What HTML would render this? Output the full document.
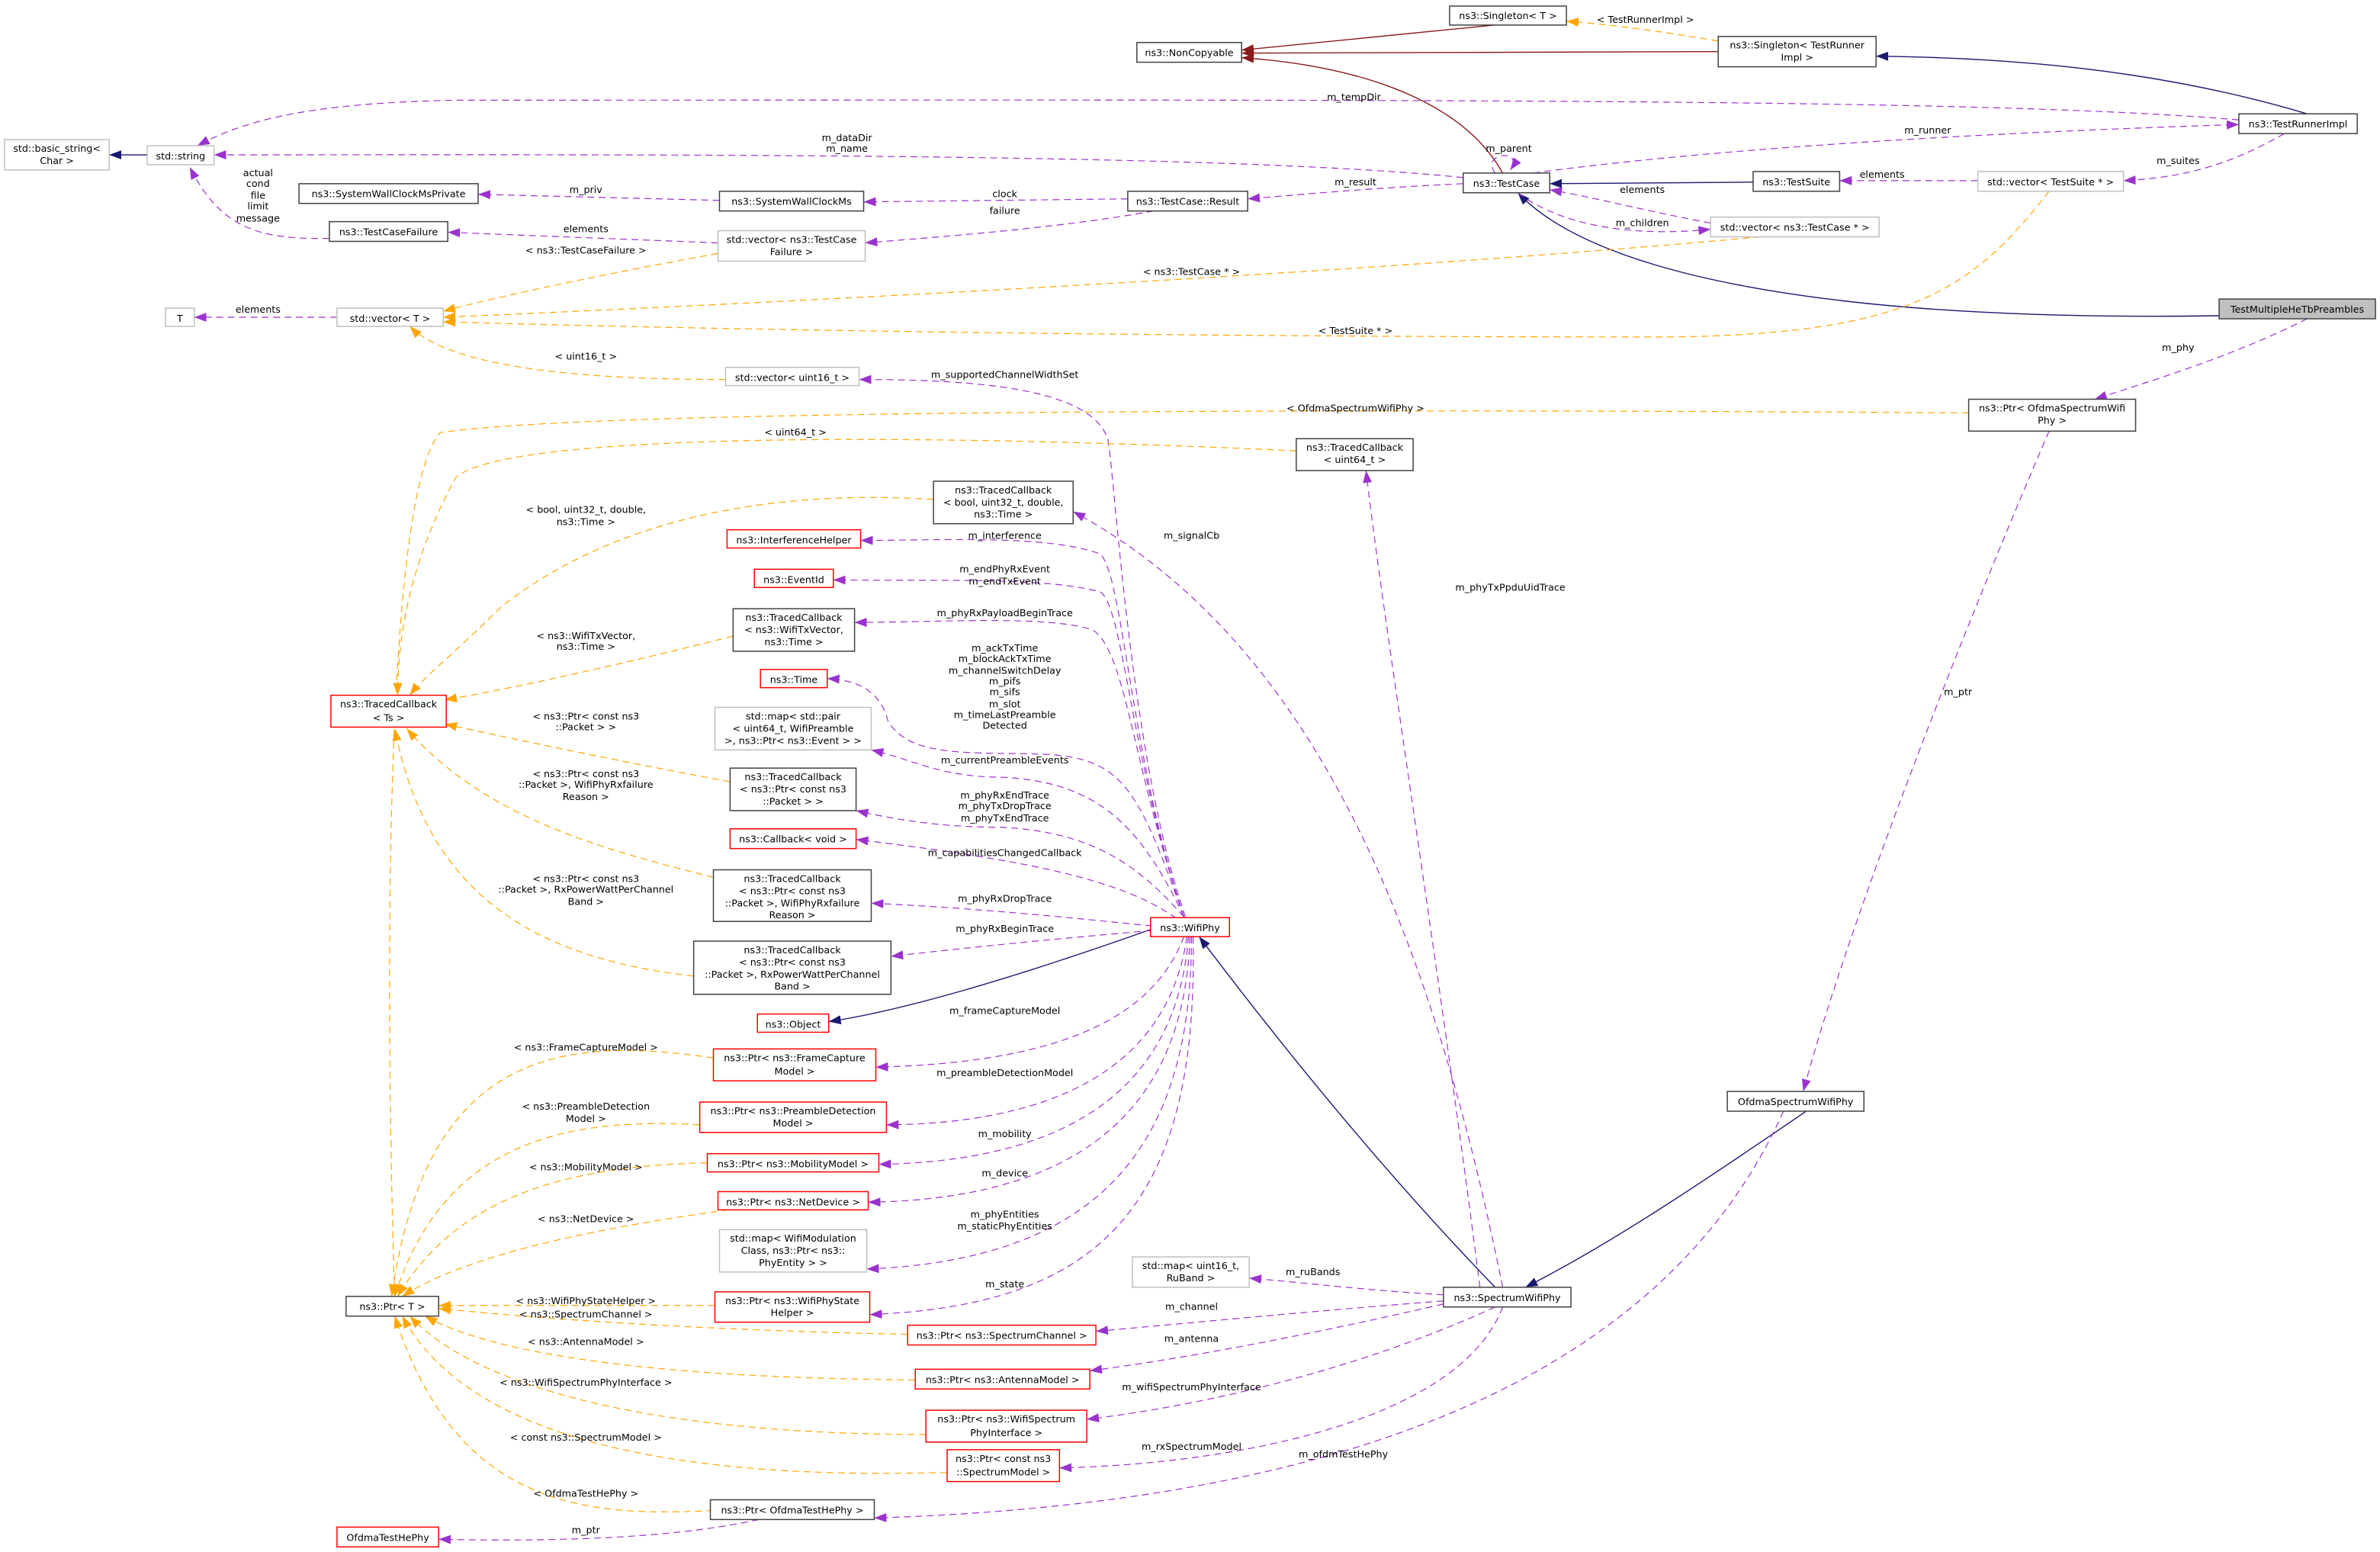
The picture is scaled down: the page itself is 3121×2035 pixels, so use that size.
<!DOCTYPE html>
<html><head><meta charset="utf-8"><style>
html,body{margin:0;padding:0;background:#fff}
svg{display:block}
text{font-family:"DejaVu Sans","Liberation Sans",sans-serif;font-size:6.4px;fill:#000;text-anchor:middle}
.b{fill:#fff;stroke:#404040;stroke-width:0.75}
.g{fill:#fff;stroke:#bfbfbf;stroke-width:0.75}
.r{fill:#fff;stroke:#ff0000;stroke-width:0.75}
.p{fill:none;stroke:#9a32cd;stroke-width:0.6;stroke-dasharray:4.5,3;marker-end:url(#mp)}
.o{fill:none;stroke:#ffa500;stroke-width:0.6;stroke-dasharray:4.5,3;marker-end:url(#mo)}
.n{fill:none;stroke:#191970;stroke-width:0.7;marker-end:url(#mn)}
.d{fill:none;stroke:#8b1a1a;stroke-width:0.7;marker-end:url(#md)}
</style></head><body>
<svg width="3121" height="2035" viewBox="0 0 1568 1022.4" preserveAspectRatio="none" xmlns="http://www.w3.org/2000/svg">
<defs>
<marker id="mp" markerUnits="userSpaceOnUse" markerWidth="9" markerHeight="7" refX="8" refY="3" orient="auto"><path d="M0,0L8,3L0,6z" fill="#9a32cd"/></marker>
<marker id="mo" markerUnits="userSpaceOnUse" markerWidth="9" markerHeight="7" refX="8" refY="3" orient="auto"><path d="M0,0L8,3L0,6z" fill="#ffa500"/></marker>
<marker id="mn" markerUnits="userSpaceOnUse" markerWidth="9" markerHeight="7" refX="8" refY="3" orient="auto"><path d="M0,0L8,3L0,6z" fill="#191970"/></marker>
<marker id="md" markerUnits="userSpaceOnUse" markerWidth="9" markerHeight="7" refX="8" refY="3" orient="auto"><path d="M0,0L8,3L0,6z" fill="#8b1a1a"/></marker>
</defs>

<!-- edges -->
<path class="d" d="M990,16 C930,22 870,28 818,33"/>
<path class="d" d="M1132,34 L818,35"/>
<path class="d" d="M990,114 C960,60 880,42 818,38"/>
<path class="o" d="M1132,27 C1090,20 1060,16 1032,14"/>
<text x="1084" y="15">&lt; TestRunnerImpl &gt;</text>
<path class="n" d="M1520,75 C1420,45 1320,38 1236,37"/>
<path class="n" d="M97,102 L72,102"/>
<path class="n" d="M1155,120 L1021,121"/>
<path class="n" d="M1462,208 C1200,212 1050,180 1000,127"/>
<path class="n" d="M759,612 C680,640 600,665 546,673"/>
<path class="n" d="M985,848 C900,760 830,670 790,617"/>
<path class="n" d="M1190,732 C1120,780 1060,820 1005,848"/>

<path class="p" d="M1475,79 C1300,64 900,66 300,66 C200,68 160,80 130,96"/>
<text x="892" y="66">m_tempDir</text>
<path class="p" d="M1010,114 C1150,95 1350,86 1475,82"/>
<text x="1270" y="88">m_runner</text>
<path class="p" d="M964,117 C800,100 400,102 141,102"/>
<text x="558" y="93">m_dataDir</text><text x="558" y="100">m_name</text>
<path class="p" d="M964,121 C900,124 860,128 822,131"/>
<text x="893" y="122">m_result</text>
<path class="p" d="M985,114 C975,100 1005,98 995,112"/>
<text x="994" y="100">m_parent</text>
<path class="p" d="M1505,88 C1470,108 1440,117 1399,119"/>
<text x="1435" y="108">m_suites</text>
<path class="p" d="M1303,119 L1212,119"/>
<text x="1240" y="117">elements</text>
<path class="p" d="M1127,147 C1080,138 1050,130 1021,125"/>
<text x="1082" y="127">elements</text>
<path class="p" d="M1000,127 C1030,150 1080,156 1127,151"/>
<text x="1082" y="149">m_children</text>
<path class="p" d="M743,131 L569,133"/>
<text x="662" y="130">clock</text>
<path class="p" d="M760,139 C700,150 620,156 570,160"/>
<text x="662" y="141">failure</text>
<path class="p" d="M474,132 L315,128"/>
<text x="386" y="127">m_priv</text>
<path class="p" d="M473,160 L295,153"/>
<text x="386" y="153">elements</text>
<path class="p" d="M217,157 C170,158 145,150 125,110"/>
<text x="170" y="116">actual</text><text x="170" y="123">cond</text><text x="170" y="131">file</text><text x="170" y="138">limit</text><text x="170" y="146">message</text>
<path class="p" d="M222,209 L128,209"/>
<text x="170" y="206">elements</text>
<path class="p" d="M1520,210 C1470,235 1420,250 1380,263"/>
<text x="1435" y="231">m_phy</text>
<path class="p" d="M1350,284 C1300,400 1220,600 1188,719"/>
<text x="1290" y="458">m_ptr</text>
<path class="p" d="M975,848 C950,650 910,400 900,310"/>
<text x="995" y="389">m_phyTxPpduUidTrace</text>
<path class="p" d="M990,848 C940,600 860,420 707,337"/>
<text x="785" y="355">m_signalCb</text>

<path class="p" d="M781,604 C745,500 735,320 730,290 C720,255 640,250 566,250"/>
<text x="662" y="249">m_supportedChannelWidthSet</text>
<path class="p" d="M780,604 C745,500 740,380 725,365 C690,352 620,356 567,356"/>
<text x="662" y="355">m_interference</text>
<path class="p" d="M780,604 C745,500 740,400 725,390 C690,380 620,383 549,382"/>
<text x="662" y="377">m_endPhyRxEvent</text><text x="662" y="385">m_endTxEvent</text>
<path class="p" d="M780,604 C745,500 742,430 720,415 C690,405 620,410 563,410"/>
<text x="662" y="406">m_phyRxPayloadBeginTrace</text>
<path class="p" d="M780,604 C750,520 740,500 690,497 C640,495 600,500 585,475 C580,455 565,448 545,447"/>
<text x="662" y="429">m_ackTxTime</text><text x="662" y="436">m_blockAckTxTime</text><text x="662" y="444">m_channelSwitchDelay</text><text x="662" y="451">m_pifs</text><text x="662" y="458">m_sifs</text><text x="662" y="466">m_slot</text><text x="662" y="473">m_timeLastPreamble</text><text x="662" y="480">Detected</text>
<path class="p" d="M780,604 C750,540 720,515 660,512 C620,512 600,500 574,494"/>
<text x="662" y="503">m_currentPreambleEvents</text>
<path class="p" d="M780,604 C750,570 720,548 660,545 C620,545 590,540 564,534"/>
<text x="662" y="526">m_phyRxEndTrace</text><text x="662" y="533">m_phyTxDropTrace</text><text x="662" y="541">m_phyTxEndTrace</text>
<path class="p" d="M775,605 C740,580 680,567 564,553"/>
<text x="662" y="564">m_capabilitiesChangedCallback</text>
<path class="p" d="M759,610 C700,604 640,598 574,595"/>
<text x="662" y="594">m_phyRxDropTrace</text>
<path class="p" d="M759,613 C700,618 640,624 587,630"/>
<text x="662" y="614">m_phyRxBeginTrace</text>
<path class="p" d="M780,617 C760,670 700,700 577,703"/>
<text x="662" y="668">m_frameCaptureModel</text>
<path class="p" d="M782,617 C770,700 700,740 584,741"/>
<text x="662" y="709">m_preambleDetectionModel</text>
<path class="p" d="M783,617 C775,720 700,765 579,767"/>
<text x="662" y="749">m_mobility</text>
<path class="p" d="M784,617 C780,740 700,790 572,792"/>
<text x="662" y="775">m_device</text>
<path class="p" d="M785,617 C785,760 720,830 571,836"/>
<text x="662" y="802">m_phyEntities</text><text x="662" y="810">m_staticPhyEntities</text>
<path class="p" d="M786,617 C790,800 720,860 573,866"/>
<text x="662" y="848">m_state</text>
<path class="p" d="M951,853 C900,850 860,845 823,842"/>
<text x="865" y="840">m_ruBands</text>
<path class="p" d="M951,857 C860,864 780,872 722,877"/>
<text x="785" y="863">m_channel</text>
<path class="p" d="M951,859 C860,880 780,895 718,903"/>
<text x="785" y="884">m_antenna</text>
<path class="p" d="M985,861 C900,900 800,925 716,935"/>
<text x="785" y="916">m_wifiSpectrumPhyInterface</text>
<path class="p" d="M990,861 C960,940 800,965 698,967"/>
<text x="785" y="955">m_rxSpectrumModel</text>
<path class="p" d="M1175,732 C1100,900 900,990 576,1000"/>
<text x="885" y="960">m_ofdmTestHePhy</text>
<path class="p" d="M500,1001 C450,1012 380,1016 289,1014"/>
<text x="386" y="1010">m_ptr</text>

<path class="o" d="M473,167 C400,180 330,195 292,205"/>
<text x="386" y="167">&lt; ns3::TestCaseFailure &gt;</text>
<path class="o" d="M1160,156 C900,180 500,200 292,209"/>
<text x="785" y="181">&lt; ns3::TestCase * &gt;</text>
<path class="o" d="M1350,126 C1300,190 1260,220 1100,222 C800,222 500,218 292,212"/>
<text x="893" y="220">&lt; TestSuite * &gt;</text>
<path class="o" d="M478,250 C400,250 300,245 270,215"/>
<text x="386" y="237">&lt; uint16_t &gt;</text>
<path class="o" d="M1297,272 C1000,270 400,268 290,285 C250,330 255,700 260,854"/>
<text x="893" y="271">&lt; OfdmaSpectrumWifiPhy &gt;</text>
<path class="o" d="M854,297 C600,285 330,285 300,315 C270,370 262,420 262,458"/>
<text x="524" y="287">&lt; uint64_t &gt;</text>
<path class="o" d="M615,329 C470,320 380,360 330,400 C300,430 280,445 270,458"/>
<text x="386" y="338">&lt; bool, uint32_t, double,</text><text x="386" y="346">ns3::Time &gt;</text>
<path class="o" d="M483,419 C400,440 330,455 293,461"/>
<text x="386" y="421">&lt; ns3::WifiTxVector,</text><text x="386" y="428">ns3::Time &gt;</text>
<path class="o" d="M481,515 C400,500 330,485 293,477"/>
<text x="386" y="474">&lt; ns3::Ptr&lt; const ns3</text><text x="386" y="481">::Packet &gt; &gt;</text>
<path class="o" d="M470,578 C400,560 320,540 268,480"/>
<text x="386" y="512">&lt; ns3::Ptr&lt; const ns3</text><text x="386" y="519">::Packet &gt;, WifiPhyRxfailure</text><text x="386" y="527">Reason &gt;</text>
<path class="o" d="M457,643 C340,630 280,580 260,480"/>
<text x="386" y="581">&lt; ns3::Ptr&lt; const ns3</text><text x="386" y="588">::Packet &gt;, RxPowerWattPerChannel</text><text x="386" y="596">Band &gt;</text>
<path class="o" d="M470,697 C360,680 280,700 258,854"/>
<text x="386" y="692">&lt; ns3::FrameCaptureModel &gt;</text>
<path class="o" d="M461,741 C360,735 290,760 260,854"/>
<text x="386" y="731">&lt; ns3::PreambleDetection</text><text x="386" y="739">Model &gt;</text>
<path class="o" d="M466,766 C370,768 300,790 262,854"/>
<text x="386" y="771">&lt; ns3::MobilityModel &gt;</text>
<path class="o" d="M480,797 C400,808 310,825 265,854"/>
<text x="386" y="805">&lt; ns3::NetDevice &gt;</text>
<path class="o" d="M471,860 L289,860"/>
<text x="386" y="859">&lt; ns3::WifiPhyStateHelper &gt;</text>
<path class="o" d="M598,879 C450,876 350,868 289,862"/>
<text x="386" y="868">&lt; ns3::SpectrumChannel &gt;</text>
<path class="o" d="M603,909 C450,908 330,895 280,867"/>
<text x="386" y="886">&lt; ns3::AntennaModel &gt;</text>
<path class="o" d="M610,945 C450,945 320,920 270,867"/>
<text x="386" y="913">&lt; ns3::WifiSpectrumPhyInterface &gt;</text>
<path class="o" d="M624,970 C450,975 310,950 265,867"/>
<text x="386" y="949">&lt; const ns3::SpectrumModel &gt;</text>
<path class="o" d="M470,995 C380,1000 300,990 260,867"/>
<text x="386" y="986">&lt; OfdmaTestHePhy &gt;</text>

<!-- nodes -->
<rect class="b" x="955" y="4" width="77" height="12.5"/><text x="993.5" y="12.5">ns3::Singleton&lt; T &gt;</text>
<rect class="b" x="749" y="28" width="69" height="13"/><text x="783.5" y="37">ns3::NonCopyable</text>
<rect class="b" x="1132" y="24" width="104" height="20"/><text x="1184" y="32">ns3::Singleton&lt; TestRunner</text><text x="1184" y="40">Impl &gt;</text>
<rect class="b" x="1475" y="75" width="78" height="13"/><text x="1514" y="84">ns3::TestRunnerImpl</text>
<rect class="g" x="3" y="92" width="69" height="20"/><text x="37.5" y="100">std::basic_string&lt;</text><text x="37.5" y="108">Char &gt;</text>
<rect class="g" x="97" y="96" width="44" height="12.5"/><text x="119" y="105">std::string</text>
<rect class="b" x="197" y="121" width="118" height="13"/><text x="256" y="130">ns3::SystemWallClockMsPrivate</text>
<rect class="b" x="474" y="126" width="95" height="13"/><text x="521.5" y="135">ns3::SystemWallClockMs</text>
<rect class="b" x="743" y="126" width="79" height="13"/><text x="782.5" y="135">ns3::TestCase::Result</text>
<rect class="b" x="964" y="114" width="57" height="13"/><text x="992.5" y="123">ns3::TestCase</text>
<rect class="b" x="1155" y="113" width="57" height="13"/><text x="1183.5" y="122">ns3::TestSuite</text>
<rect class="g" x="1303" y="113" width="96" height="13"/><text x="1351" y="122">std::vector&lt; TestSuite * &gt;</text>
<rect class="b" x="217" y="146" width="78" height="13"/><text x="256" y="155">ns3::TestCaseFailure</text>
<rect class="g" x="473" y="152" width="97" height="20"/><text x="521.5" y="160">std::vector&lt; ns3::TestCase</text><text x="521.5" y="168">Failure &gt;</text>
<rect class="g" x="1127" y="143" width="111" height="13"/><text x="1182.5" y="152">std::vector&lt; ns3::TestCase * &gt;</text>
<rect class="g" x="109" y="203" width="19" height="12"/><text x="118.5" y="212">T</text>
<rect class="g" x="222" y="203" width="70" height="12"/><text x="257" y="212">std::vector&lt; T &gt;</text>
<rect x="1462" y="197" width="103" height="13" fill="#bfbfbf" stroke="#404040" stroke-width="0.75"/><text x="1513.5" y="206">TestMultipleHeTbPreambles</text>
<rect class="g" x="478" y="242" width="88" height="12"/><text x="522" y="251">std::vector&lt; uint16_t &gt;</text>
<rect class="b" x="1297" y="263" width="110" height="21"/><text x="1352" y="271">ns3::Ptr&lt; OfdmaSpectrumWifi</text><text x="1352" y="279">Phy &gt;</text>
<rect class="b" x="854" y="289" width="77" height="21"/><text x="892.5" y="297">ns3::TracedCallback</text><text x="892.5" y="305">&lt; uint64_t &gt;</text>
<rect class="b" x="615" y="317" width="92" height="28"/><text x="661" y="325">ns3::TracedCallback</text><text x="661" y="333">&lt; bool, uint32_t, double,</text><text x="661" y="341">ns3::Time &gt;</text>
<rect class="r" x="479" y="349" width="88" height="12"/><text x="523" y="358">ns3::InterferenceHelper</text>
<rect class="r" x="497" y="375" width="52" height="12"/><text x="523" y="384">ns3::EventId</text>
<rect class="b" x="483" y="401" width="80" height="28"/><text x="523" y="409">ns3::TracedCallback</text><text x="523" y="417">&lt; ns3::WifiTxVector,</text><text x="523" y="425">ns3::Time &gt;</text>
<rect class="r" x="218" y="458" width="76" height="21"/><text x="256" y="466">ns3::TracedCallback</text><text x="256" y="475">&lt; Ts &gt;</text>
<rect class="r" x="501" y="441" width="44" height="12"/><text x="523" y="450">ns3::Time</text>
<rect class="g" x="471" y="466" width="103" height="28"/><text x="522.5" y="474">std::map&lt; std::pair</text><text x="522.5" y="482">&lt; uint64_t, WifiPreamble</text><text x="522.5" y="490">&gt;, ns3::Ptr&lt; ns3::Event &gt; &gt;</text>
<rect class="b" x="481" y="506" width="83" height="28"/><text x="522.5" y="514">ns3::TracedCallback</text><text x="522.5" y="522">&lt; ns3::Ptr&lt; const ns3</text><text x="522.5" y="530">::Packet &gt; &gt;</text>
<rect class="r" x="481" y="546" width="83" height="13"/><text x="522.5" y="555">ns3::Callback&lt; void &gt;</text>
<rect class="b" x="470" y="573" width="104" height="34"/><text x="522" y="581">ns3::TracedCallback</text><text x="522" y="589">&lt; ns3::Ptr&lt; const ns3</text><text x="522" y="597">::Packet &gt;, WifiPhyRxfailure</text><text x="522" y="605">Reason &gt;</text>
<rect class="r" x="758" y="604.5" width="52" height="12.5"/><text x="784" y="613.5">ns3::WifiPhy</text>
<rect class="b" x="457" y="620" width="130" height="35"/><text x="522" y="628">ns3::TracedCallback</text><text x="522" y="636">&lt; ns3::Ptr&lt; const ns3</text><text x="522" y="644">::Packet &gt;, RxPowerWattPerChannel</text><text x="522" y="652">Band &gt;</text>
<rect class="r" x="499" y="668" width="47" height="12"/><text x="522.5" y="677">ns3::Object</text>
<rect class="r" x="470" y="691" width="107" height="21"/><text x="523.5" y="699">ns3::Ptr&lt; ns3::FrameCapture</text><text x="523.5" y="708">Model &gt;</text>
<rect class="b" x="1138" y="719" width="90" height="13"/><text x="1183" y="728">OfdmaSpectrumWifiPhy</text>
<rect class="r" x="461" y="726" width="123" height="20"/><text x="522.5" y="734">ns3::Ptr&lt; ns3::PreambleDetection</text><text x="522.5" y="742">Model &gt;</text>
<rect class="r" x="466" y="760" width="113" height="12"/><text x="522.5" y="769">ns3::Ptr&lt; ns3::MobilityModel &gt;</text>
<rect class="r" x="473" y="785" width="99" height="12"/><text x="522.5" y="794">ns3::Ptr&lt; ns3::NetDevice &gt;</text>
<rect class="g" x="474" y="810" width="97" height="28"/><text x="522.5" y="818">std::map&lt; WifiModulation</text><text x="522.5" y="826">Class, ns3::Ptr&lt; ns3::</text><text x="522.5" y="834">PhyEntity &gt; &gt;</text>
<rect class="g" x="746" y="828" width="77" height="20"/><text x="784.5" y="836">std::map&lt; uint16_t,</text><text x="784.5" y="844">RuBand &gt;</text>
<rect class="b" x="951" y="848" width="84" height="13"/><text x="993" y="857">ns3::SpectrumWifiPhy</text>
<rect class="b" x="228" y="854" width="61" height="13"/><text x="258.5" y="863">ns3::Ptr&lt; T &gt;</text>
<rect class="r" x="471" y="851" width="102" height="20"/><text x="522" y="859">ns3::Ptr&lt; ns3::WifiPhyState</text><text x="522" y="867">Helper &gt;</text>
<rect class="r" x="598" y="873" width="124" height="13"/><text x="660" y="882">ns3::Ptr&lt; ns3::SpectrumChannel &gt;</text>
<rect class="r" x="603" y="902" width="115" height="13"/><text x="660.5" y="911">ns3::Ptr&lt; ns3::AntennaModel &gt;</text>
<rect class="r" x="610" y="929" width="106" height="21"/><text x="663" y="937">ns3::Ptr&lt; ns3::WifiSpectrum</text><text x="663" y="946">PhyInterface &gt;</text>
<rect class="r" x="624" y="955" width="74" height="21"/><text x="661" y="963">ns3::Ptr&lt; const ns3</text><text x="661" y="972">::SpectrumModel &gt;</text>
<rect class="b" x="468" y="988" width="108" height="13"/><text x="522" y="997">ns3::Ptr&lt; OfdmaTestHePhy &gt;</text>
<rect class="r" x="222" y="1006" width="67" height="13"/><text x="255.5" y="1015">OfdmaTestHePhy</text>
</svg>
</body></html>
